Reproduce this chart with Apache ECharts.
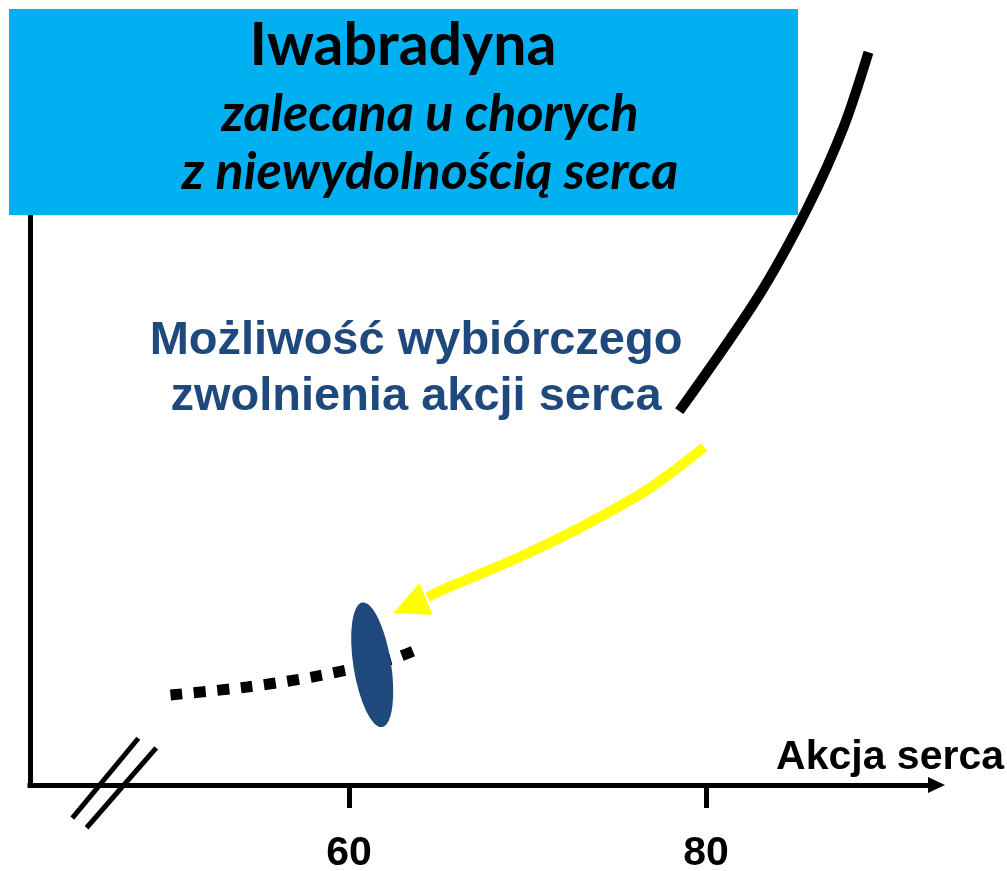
<!DOCTYPE html>
<html>
<head>
<meta charset="utf-8">
<script src="https://cdn.jsdelivr.net/npm/echarts@6/dist/echarts.min.js"></script>
<style>
  html, body { margin: 0; padding: 0; background: #fff; }
  #main { width: 1007px; height: 871px; }
</style>
</head>
<body>
<div id="main"></div>
<script>
// heart rate on x, arbitrary units on y
const xTicks = [60, 80];
const axisName = 'Akcja serca';

const titleText = 'Iwabradyna';
const subLines = ['zalecana u chorych', 'z niewydolnością serca'];
const noteLines = ['Możliwość wybiórczego', 'zwolnienia akcji serca'];

// steep curve (high heart rate)
const fastCurve = [[78.5, 65.6], [82.9, 85.6], [85.7, 101.4], [87.7, 115.4], [89.1, 128.6]];
// dotted flat part at low heart rate
const slowCurve = [[50.0, 15.8], [54.3, 17.2], [58.2, 19.1], [62.4, 22.1], [63.9, 23.9]];
// target point after slowing
const targetPoint = [[61.3, 21.1]];
// yellow arrow
const arrowPath = [[79.9, 59.3], [76.7, 51.8], [72.9, 45.1], [69.2, 39.5], [65.5, 34.6], [64.4, 33.0]];
const arrowHead = [[63.4, 31.4]];
// axis break marks
const breakMarkA = [[44.5, -5.8], [48.2, 8.2]];
const breakMarkB = [[45.3, -7.5], [49.2, 6.5]];

let chart = echarts.init(document.getElementById('main'));

let option = {
  animation: false,
  backgroundColor: '#fff',
  grid: { left: 30, right: 70.5, top: 14, bottom: 86, outerBoundsMode: 'none', containLabel: false },
  xAxis: {
    type: 'value',
    min: 42.13,
    max: 92.91,
    axisLine: {
      onZero: false,
      symbol: ['none', 'triangle'],
      symbolSize: [16, 17],
      lineStyle: { color: '#000', width: 5, cap: 'square' }
    },
    axisTick: { customValues: xTicks, length: 23, lineStyle: { color: '#000', width: 5 } },
    axisLabel: {
      customValues: xTicks,
      margin: 48,
      color: '#000',
      fontFamily: 'Liberation Sans',
      fontWeight: 'bold',
      fontSize: 41
    },
    splitLine: { show: false },
    name: axisName,
    nameLocation: 'end',
    nameGap: 67.5,
    nameTextStyle: {
      color: '#000',
      fontFamily: 'Liberation Sans',
      fontWeight: 'bold',
      fontSize: 41,
      align: 'right',
      verticalAlign: 'bottom',
      padding: [0, 0, 7, 0]
    }
  },
  yAxis: {
    type: 'value',
    min: 0,
    max: 135.3,
    axisLine: { show: true, onZero: false, lineStyle: { color: '#000', width: 5 } },
    axisTick: { show: false },
    axisLabel: { show: false },
    splitLine: { show: false }
  },
  graphic: [
    { type: 'rect', z: 1, shape: { x: 9, y: 9, width: 789, height: 206 }, style: { fill: '#00B0F0' } },
    {
      type: 'text', z: 5, x: 403, y: 45.5,
      style: { text: titleText, fill: '#000', font: 'bold 59px Lato', align: 'center', verticalAlign: 'middle' }
    },
    {
      type: 'text', z: 5, x: 430, y: 114,
      style: { text: subLines[0], fill: '#000', font: 'italic bold 52px Lato', align: 'center', verticalAlign: 'middle' }
    },
    {
      type: 'text', z: 5, x: 430, y: 172,
      style: { text: subLines[1], fill: '#000', font: 'italic bold 52px Lato', align: 'center', verticalAlign: 'middle' }
    },
    {
      type: 'text', z: 5, x: 416, y: 368.7,
      style: {
        text: noteLines.join('\n'), fill: '#1F497D', font: 'bold 47px "Liberation Sans"',
        lineHeight: 56, align: 'center', verticalAlign: 'middle'
      }
    }
  ],
  series: [
    {
      type: 'line', z: 3, data: fastCurve, smooth: 0.3, showSymbol: false, clip: false,
      lineStyle: { color: '#000', width: 10 }
    },
    {
      type: 'line', z: 3, data: slowCurve, smooth: 0.3, showSymbol: false, clip: false,
      lineStyle: { color: '#000', width: 11, type: [12, 11.5] }
    },
    {
      type: 'scatter', z: 4, data: targetPoint,
      symbol: 'path://M0 0A50 50 0 1 1 0 100A50 50 0 1 1 0 0Z',
      symbolSize: [37.6, 126], symbolRotate: 9,
      itemStyle: { color: '#1F497D', opacity: 1 }
    },
    {
      type: 'line', z: 3, data: arrowPath, smooth: 0.3, showSymbol: false, clip: false,
      lineStyle: { color: '#FFFF00', width: 10 }
    },
    {
      type: 'scatter', z: 3, data: arrowHead,
      symbol: 'triangle', symbolSize: [34.5, 35.4], symbolRotate: 113,
      itemStyle: { color: '#FFFF00', opacity: 1 }
    },
    {
      type: 'line', z: 3, data: breakMarkA, showSymbol: false, clip: false,
      lineStyle: { color: '#000', width: 5 }
    },
    {
      type: 'line', z: 3, data: breakMarkB, showSymbol: false, clip: false,
      lineStyle: { color: '#000', width: 5 }
    }
  ]
};

chart.setOption(option);
</script>
</body>
</html>
